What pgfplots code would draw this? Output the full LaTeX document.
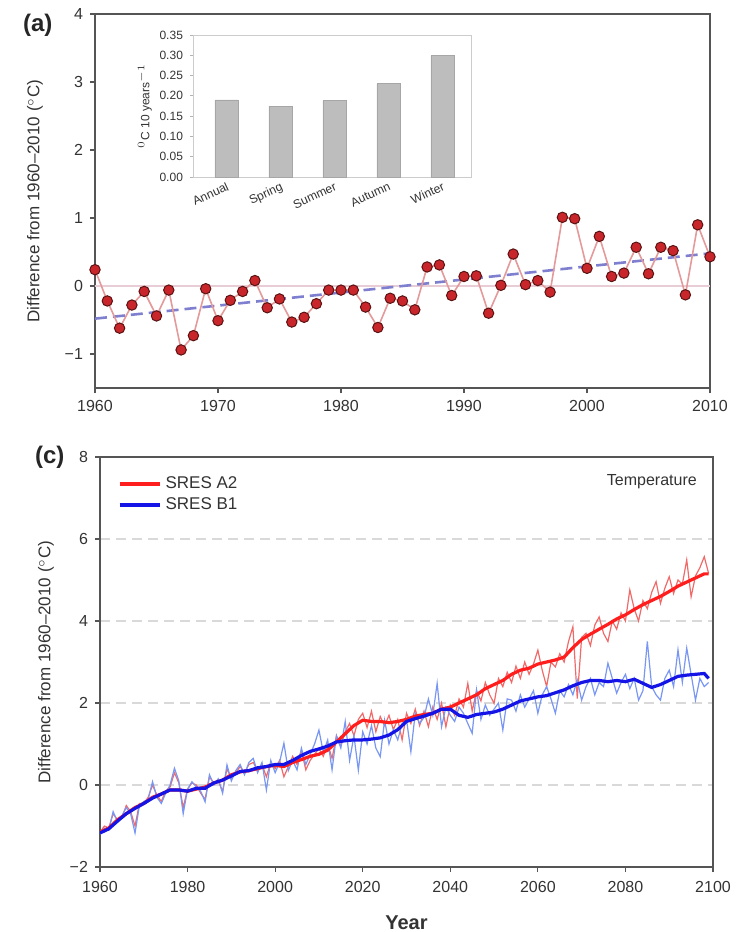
\documentclass[border=0pt]{standalone}
\usepackage{pgfplots}
\pgfplotsset{compat=1.18}
\usepackage{fontspec}
\setmainfont{Liberation Sans}
\definecolor{axgray}{HTML}{555555}
\definecolor{txt}{HTML}{333333}
\definecolor{ptred}{HTML}{C8262B}
\definecolor{ptedge}{HTML}{5A1212}
\definecolor{lnpink}{HTML}{E49A9A}
\definecolor{trend}{HTML}{7F7FD0}
\definecolor{zeroln}{HTML}{E8CCD6}
\definecolor{barfill}{HTML}{BDBDBD}
\definecolor{a2}{HTML}{FF1E1E}
\definecolor{b1}{HTML}{1414E6}
\definecolor{a2thin}{HTML}{F06A6A}
\definecolor{b1thin}{HTML}{7896F2}

\pgfplotstableread{
year val
1960 0.24
1961 -0.22
1962 -0.62
1963 -0.28
1964 -0.08
1965 -0.44
1966 -0.06
1967 -0.94
1968 -0.73
1969 -0.04
1970 -0.51
1971 -0.21
1972 -0.08
1973 0.08
1974 -0.32
1975 -0.19
1976 -0.53
1977 -0.46
1978 -0.26
1979 -0.06
1980 -0.06
1981 -0.06
1982 -0.31
1983 -0.61
1984 -0.18
1985 -0.22
1986 -0.35
1987 0.28
1988 0.31
1989 -0.14
1990 0.14
1991 0.15
1992 -0.40
1993 0.01
1994 0.47
1995 0.02
1996 0.08
1997 -0.09
1998 1.01
1999 0.99
2000 0.26
2001 0.73
2002 0.14
2003 0.19
2004 0.57
2005 0.18
2006 0.57
2007 0.52
2008 -0.13
2009 0.90
2010 0.43
}\obsdata

\pgfplotstableread{
cat val
0 0.190
1 0.175
2 0.188
3 0.230
4 0.300
}\insetdata

\pgfplotstableread{
year val
1960 -1.15
1962 -1.05
1964 -0.85
1966 -0.70
1968 -0.55
1970 -0.45
1972 -0.30
1974 -0.22
1976 -0.12
1978 -0.12
1980 -0.15
1982 -0.10
1984 -0.05
1986 0.05
1988 0.12
1990 0.25
1992 0.32
1994 0.35
1996 0.40
1998 0.45
2000 0.48
2002 0.45
2004 0.55
2006 0.62
2008 0.70
2010 0.75
2012 0.85
2014 1.05
2016 1.25
2018 1.45
2020 1.58
2022 1.55
2024 1.55
2026 1.52
2028 1.55
2030 1.60
2032 1.68
2034 1.72
2036 1.75
2038 1.85
2040 1.90
2042 2.00
2044 2.10
2046 2.20
2048 2.35
2050 2.45
2052 2.55
2054 2.70
2056 2.80
2058 2.85
2060 2.95
2062 3.00
2064 3.05
2066 3.12
2068 3.35
2070 3.55
2072 3.68
2074 3.80
2076 3.92
2078 4.05
2080 4.15
2082 4.28
2084 4.40
2086 4.50
2088 4.60
2090 4.72
2092 4.85
2094 4.95
2096 5.05
2098 5.15
2099 5.15
}\atwosmooth

\pgfplotstableread{
year val
1960 -1.17
1962 -1.07
1964 -0.88
1966 -0.70
1968 -0.57
1970 -0.45
1972 -0.32
1974 -0.22
1976 -0.12
1978 -0.12
1980 -0.15
1982 -0.08
1984 -0.08
1986 0.05
1988 0.12
1990 0.22
1992 0.33
1994 0.35
1996 0.42
1998 0.45
2000 0.50
2002 0.50
2004 0.60
2006 0.72
2008 0.82
2010 0.88
2012 0.95
2014 1.05
2016 1.08
2018 1.10
2020 1.10
2022 1.12
2024 1.15
2026 1.22
2028 1.35
2030 1.55
2032 1.62
2034 1.68
2036 1.75
2038 1.85
2040 1.85
2042 1.70
2044 1.65
2046 1.72
2048 1.75
2050 1.78
2052 1.85
2054 1.95
2056 2.05
2058 2.10
2060 2.15
2062 2.18
2064 2.25
2066 2.32
2068 2.42
2070 2.50
2072 2.55
2074 2.55
2076 2.52
2078 2.55
2080 2.52
2082 2.58
2084 2.48
2086 2.38
2088 2.45
2090 2.55
2092 2.65
2094 2.68
2096 2.70
2098 2.72
2099 2.60
}\bonesmooth

\pgfplotstableread{
year val
1960 -1.15
1961 -1.00
1962 -1.05
1963 -0.70
1964 -0.85
1965 -0.80
1966 -0.50
1967 -0.65
1968 -1.00
1969 -0.45
1970 -0.45
1971 -0.30
1972 0.00
1973 -0.25
1974 -0.40
1975 -0.15
1976 -0.05
1977 0.30
1978 0.05
1979 -0.55
1980 -0.10
1981 0.05
1982 0.00
1983 -0.20
1984 -0.35
1985 0.20
1986 0.05
1987 0.10
1988 -0.15
1989 0.40
1990 0.15
1991 0.30
1992 0.45
1993 0.30
1994 0.50
1995 0.55
1996 0.35
1997 0.50
1998 0.20
1999 0.55
2000 0.40
2001 0.60
2002 0.20
2003 0.45
2004 0.70
2005 0.50
2006 0.85
2007 0.37
2008 0.60
2009 0.75
2010 0.89
2011 0.70
2012 1.00
2013 0.65
2014 1.20
2015 0.95
2016 1.30
2017 1.50
2018 1.20
2019 1.60
2020 1.75
2021 1.40
2022 1.80
2023 1.30
2024 1.67
2025 1.45
2026 1.70
2027 1.35
2028 1.60
2029 1.10
2030 1.75
2031 1.50
2032 1.85
2033 1.45
2034 1.80
2035 1.42
2036 1.90
2037 1.60
2038 2.00
2039 1.42
2040 1.95
2041 1.70
2042 2.10
2043 1.90
2044 2.48
2045 1.80
2046 2.30
2047 2.05
2048 2.50
2049 2.20
2050 1.99
2051 2.60
2052 2.40
2053 2.75
2054 2.50
2055 2.90
2056 2.60
2057 3.00
2058 2.70
2059 2.95
2060 3.29
2061 2.80
2062 2.40
2063 3.00
2064 2.88
2065 3.20
2066 3.00
2067 3.50
2068 3.86
2069 2.11
2070 3.60
2071 3.70
2072 3.40
2073 3.90
2074 4.10
2075 3.70
2076 3.50
2077 4.00
2078 3.80
2079 4.20
2080 4.00
2081 4.76
2082 4.30
2083 4.00
2084 4.50
2085 4.30
2086 4.70
2087 4.96
2088 4.43
2089 4.80
2090 5.08
2091 4.67
2092 5.00
2093 4.90
2094 5.49
2095 4.59
2096 5.10
2097 5.30
2098 5.57
2099 5.16
}\atwothin

\pgfplotstableread{
year val
1960 -1.20
1961 -1.05
1962 -1.10
1963 -0.65
1964 -0.90
1965 -0.75
1966 -0.55
1967 -0.70
1968 -1.17
1969 -0.50
1970 -0.40
1971 -0.35
1972 0.08
1973 -0.30
1974 -0.45
1975 -0.20
1976 0.00
1977 0.41
1978 0.10
1979 -0.70
1980 -0.10
1981 0.08
1982 -0.05
1983 -0.15
1984 -0.41
1985 0.25
1986 0.00
1987 0.15
1988 -0.20
1989 0.49
1990 0.10
1991 0.35
1992 0.50
1993 0.25
1994 0.55
1995 0.65
1996 0.30
1997 0.55
1998 -0.12
1999 0.60
2000 0.30
2001 0.55
2002 1.02
2003 0.35
2004 0.60
2005 0.37
2006 0.90
2007 0.50
2008 0.75
2009 1.00
2010 1.34
2011 0.80
2012 1.10
2013 0.37
2014 1.20
2015 0.90
2016 1.55
2017 0.60
2018 1.20
2019 0.36
2020 1.30
2021 1.00
2022 1.45
2023 0.90
2024 0.69
2025 1.58
2026 1.00
2027 1.35
2028 1.10
2029 1.50
2030 1.60
2031 0.81
2032 1.75
2033 1.50
2034 1.65
2035 2.10
2036 1.70
2037 2.48
2038 1.42
2039 1.90
2040 1.70
2041 1.55
2042 1.90
2043 1.75
2044 1.50
2045 1.26
2046 2.32
2047 1.60
2048 1.95
2049 1.70
2050 1.85
2051 2.00
2052 1.34
2053 2.10
2054 2.07
2055 1.80
2056 2.20
2057 1.90
2058 2.10
2059 2.30
2060 1.75
2061 2.20
2062 2.40
2063 2.10
2064 1.75
2065 2.30
2066 2.15
2067 2.45
2068 2.20
2069 2.56
2070 2.07
2071 2.40
2072 2.60
2073 2.20
2074 2.50
2075 2.40
2076 2.97
2077 2.60
2078 2.24
2079 2.50
2080 2.70
2081 2.35
2082 2.60
2083 2.07
2084 2.30
2085 3.50
2086 2.40
2087 2.20
2088 2.07
2089 2.60
2090 2.80
2091 2.40
2092 3.30
2093 2.50
2094 3.34
2095 2.70
2096 2.07
2097 2.60
2098 2.40
2099 2.50
}\bonethin

\pgfplotsset{
  myax/.style={
    scale only axis,
    axis line style={axgray, line width=0.8pt},
    tick style={axgray, line width=0.6pt},
    tick align=outside,
    major tick length=2.5pt,
    minor tick num=0,
    tick label style={font=\fontsize{8}{9}\selectfont, text=txt},
    label style={font=\fontsize{8.5}{10}\selectfont, text=txt},
    /pgf/number format/assume math mode=true,
    /pgf/number format/1000 sep={},
    xtick pos=bottom, ytick pos=left,
    clip=true,
  }
}

\begin{document}
\begin{tikzpicture}
\path[use as bounding box] (0pt,0pt) rectangle (368.5pt,-466pt);

% ---------- panel (a) ----------
\begin{axis}[myax,
  at={(47.5pt,-194pt)}, anchor=south west,
  width=307.5pt, height=187pt,
  xmin=1960, xmax=2010, ymin=-1.5, ymax=4,
  xtick={1960,1970,...,2010},
  ytick={-1,0,1,2,3,4},
  yticklabels={−1,0,1,2,3,4},
  ylabel={Difference from 1960--2010 ($^{\circ}$C)},
  ylabel style={yshift=4pt},
]
\addplot[zeroln, line width=0.8pt, forget plot] coordinates {(1960,0) (2010,0)};
\addplot[trend, line width=1.3pt, dash pattern=on 6pt off 3pt, forget plot] coordinates {(1960,-0.48) (2010,0.48)};
\addplot[lnpink, line width=0.8pt, mark=*, mark size=2.6pt,
  mark options={fill=ptred, draw=ptedge, line width=0.5pt, solid}] table[x=year, y=val] {\obsdata};
\end{axis}

% ---------- inset ----------
\begin{axis}[
  scale only axis,
  at={(96.5pt,-88.5pt)}, anchor=south west,
  width=139.5pt, height=71pt,
  axis line style={draw=black!20, line width=0.5pt},
  xmin=-0.62, xmax=4.55, ymin=0, ymax=0.35,
  ytick={0,0.05,...,0.36},
  xtick={0,1,2,3,4},
  xticklabels={Annual,Spring,Summer,Autumn,Winter},
  x tick label style={rotate=25, anchor=north east, font=\fontsize{6.1}{6.5}\selectfont, text=txt, inner sep=0.5pt},
  y tick label style={font=\fontsize{6}{7}\selectfont, text=txt, /pgf/number format/.cd, fixed, fixed zerofill, precision=2},
  /pgf/number format/assume math mode=true,
  tick style={draw=black!30, line width=0.4pt},
  major tick length=1.5pt,
  tick align=outside,
  xtick pos=bottom, ytick pos=left,
  xtick style={draw=none},
  ylabel={$^{0}$C 10 years$^{-1}$},
  ylabel style={font=\fontsize{6}{7}\selectfont, text=txt, yshift=-3pt},
]
\addplot[ybar, bar width=11.5pt, fill=barfill, draw=black!35, line width=0.3pt] table[x=cat, y=val] {\insetdata};
\end{axis}

% ---------- panel (c) ----------
\begin{axis}[myax,
  at={(50pt,-433.5pt)}, anchor=south west,
  width=306.5pt, height=205pt,
  xmin=1960, xmax=2100, ymin=-2, ymax=8,
  xtick={1960,1980,...,2100},
  ytick={-2,0,2,4,6,8},
  yticklabels={−2,0,2,4,6,8},
  ymajorgrids=true,
  grid style={black!15, dash pattern=on 5pt off 3pt, line width=0.6pt},
  ylabel={Difference from 1960--2010 ($^{\circ}$C)},
  ylabel style={yshift=1pt},
  xlabel={\textbf{Year}},
  xlabel style={font=\fontsize{10}{12}\selectfont, text=txt, yshift=-5pt},
  x tick label style={yshift=-1pt},
  legend style={at={(0.025,0.968)}, anchor=north west, draw=none, fill=none,
    font=\fontsize{8.5}{10}\selectfont, text=txt, row sep=-1pt, inner sep=1pt},
  legend cell align=left,
  legend image post style={line width=2pt},
  legend image code/.code={\draw[#1] (0cm,0cm) -- (0.7cm,0cm);},
]
\addplot[a2thin, line width=0.6pt, forget plot] table[x=year, y=val] {\atwothin};
\addplot[b1thin, line width=0.6pt, forget plot] table[x=year, y=val] {\bonethin};
\addplot[a2, line width=1.6pt] table[x=year, y=val] {\atwosmooth};
\addlegendentry{SRES A2}
\addplot[b1, line width=1.6pt] table[x=year, y=val] {\bonesmooth};
\addlegendentry{SRES B1}
\node[anchor=north east, font=\fontsize{8}{9}\selectfont, text=txt] at (rel axis cs:0.985,0.975) {Temperature};
\end{axis}

\node[anchor=west, font=\bfseries\fontsize{12}{14}\selectfont, text=black!85] at (8pt,-12.5pt) {(a)};
\node[anchor=west, font=\bfseries\fontsize{12}{14}\selectfont, text=black!85] at (14pt,-228.5pt) {(c)};
\end{tikzpicture}
\end{document}
